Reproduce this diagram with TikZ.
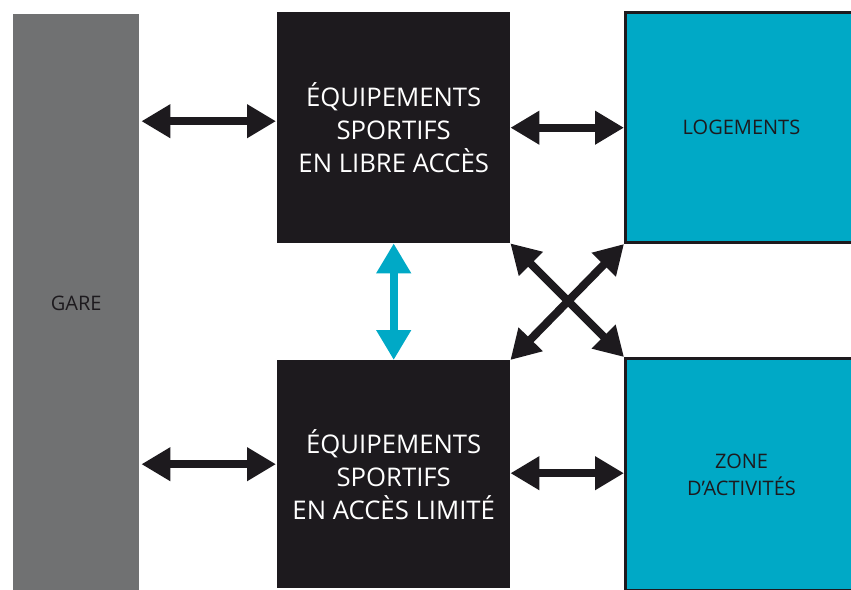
\documentclass[tikz,border=0pt]{standalone}
\usepackage{fontspec}
\setsansfont{Open Sans}
\usetikzlibrary{arrows.meta, positioning}
\definecolor{quai}{HTML}{707172}
\definecolor{encre}{HTML}{1D1A1E}
\definecolor{lagon}{HTML}{00A9C6}
\tikzset{
	bloc/.style={rectangle, anchor=north west, inner sep=0pt, align=center},
	sombre/.style={bloc, fill=encre, text=white, font=\sffamily\fontsize{25.7}{33}\selectfont},
	clair/.style={bloc, fill=lagon, draw=encre, line width=3pt, text=encre, font=\sffamily\fontsize{20}{27}\selectfont},
	lien/.style={<->, line width=8pt, draw=encre, >={Triangle[length=29pt,width=32pt]}},
	lien court/.style={lien, shorten <=2pt, shorten >=1pt}
}
\begin{document}
\begin{tikzpicture}[x=1pt, y=-1pt]
	\useasboundingbox (0,0) rectangle (851,589);
	\node[bloc, fill=quai, text=encre, font=\sffamily\fontsize{20}{27}\selectfont,
	      minimum width=126pt, minimum height=578pt] (gare) at (13,14) {GARE};
	\node[sombre, minimum width=233pt, minimum height=231pt] (libre)  at (277,12)  {ÉQUIPEMENTS\\SPORTIFS\\EN LIBRE ACCÈS};
	\node[sombre, minimum width=233pt, minimum height=228pt] (limite) at (277,360) {ÉQUIPEMENTS\\SPORTIFS\\EN ACCÈS LIMITÉ};
	\node[clair, minimum width=232pt, minimum height=230pt] (loge) at (624,11)  {LOGEMENTS};
	\node[clair, minimum width=232pt, minimum height=232pt] (zone) at (624,357) {ZONE\\D’ACTIVITÉS};
	% liaisons
	\draw[lien court, transform canvas={yshift=6.5pt}] (gare.east |- libre.west) -- (libre.west);
	\draw[lien court, transform canvas={yshift=10pt}] (gare.east |- limite.west) -- (limite.west);
	\draw[lien] (libre.east) -- (loge.west |- libre.east);
	\draw[lien, transform canvas={yshift=1pt}] (limite.east) -- (zone.west |- limite.east);
	\draw[lien, draw=lagon, >={Triangle[length=30pt,width=33pt]}] (libre.south) -- (limite.north);
	\draw[lien] (libre.south east) -- (zone.north west);
	\draw[lien] (loge.south west) -- (limite.north east);
\end{tikzpicture}
\end{document}
